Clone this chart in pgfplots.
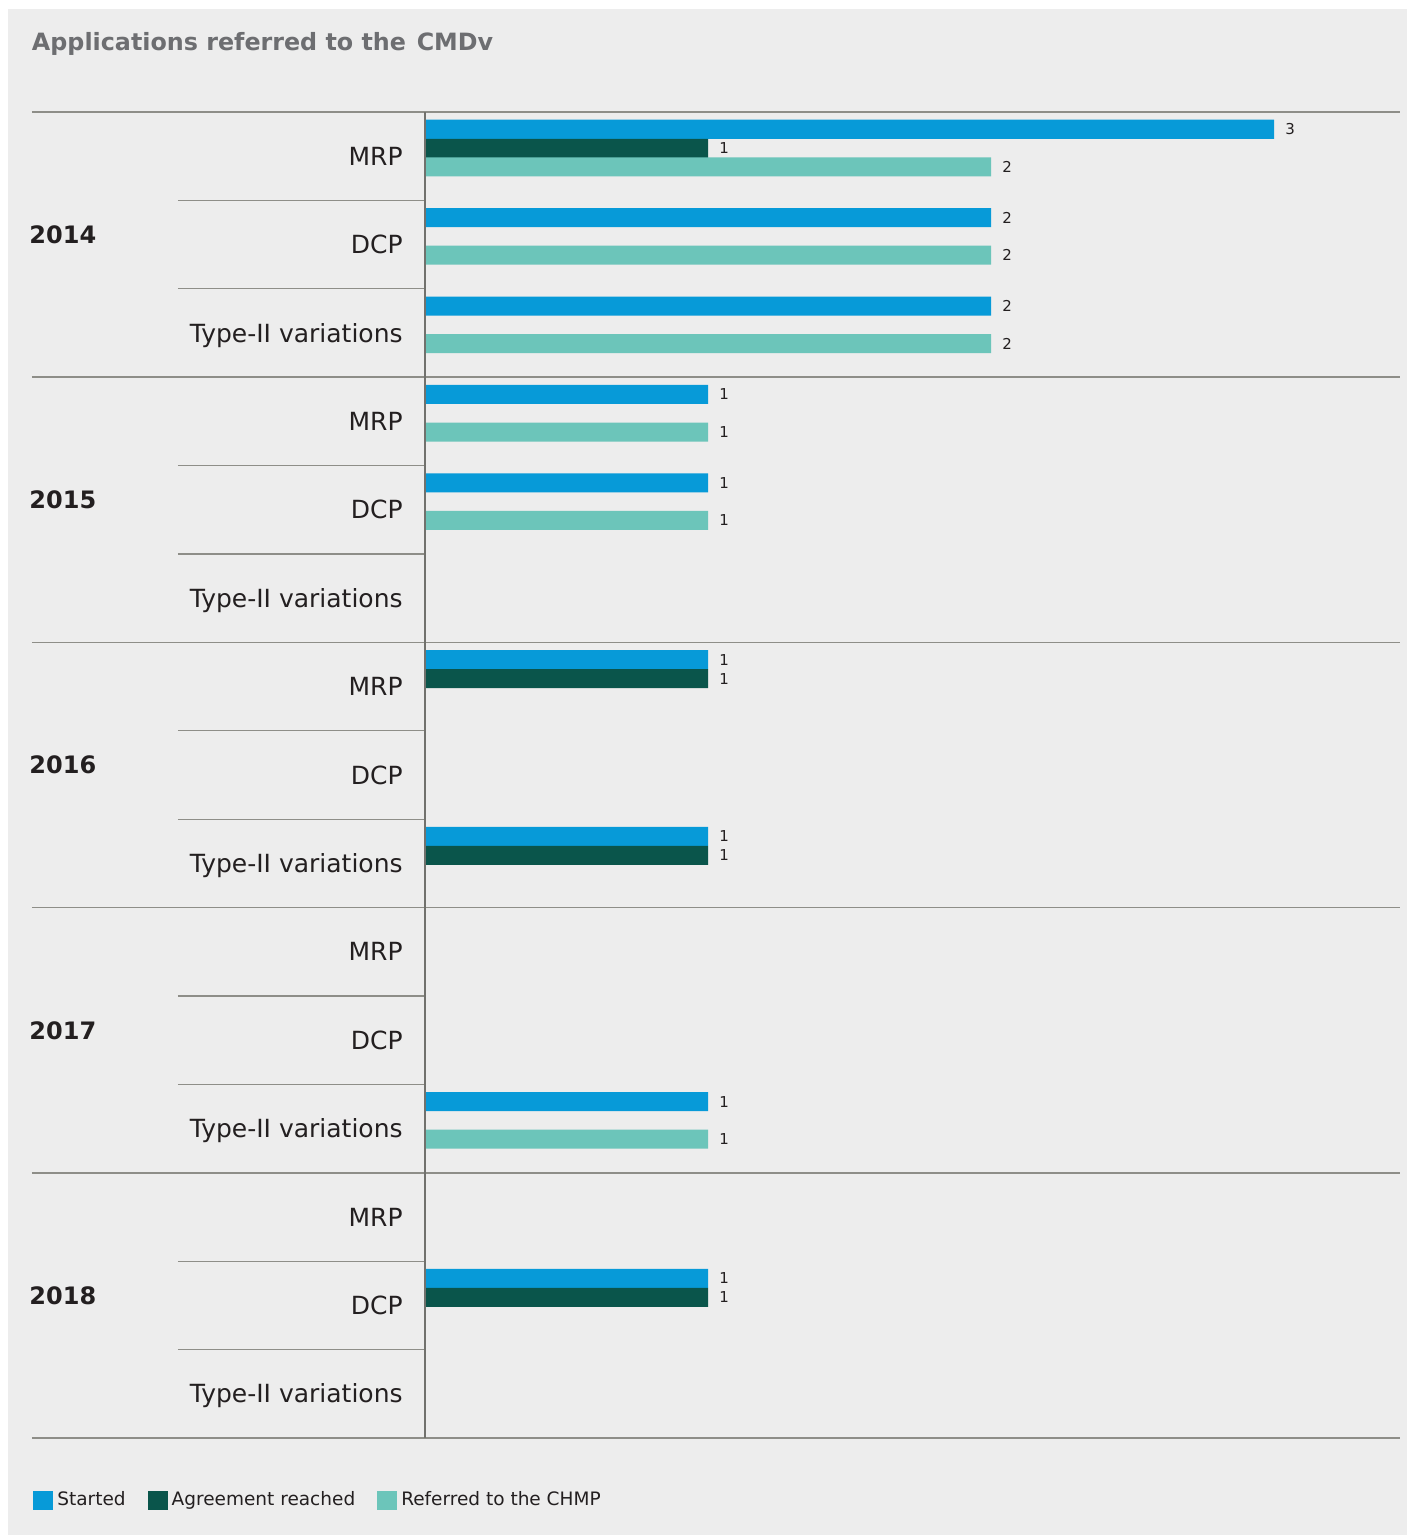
\documentclass[border=0pt]{standalone}
\usepackage{fontspec}
\setmainfont{DejaVu Sans}
\usepackage{pgfplots}
\usepackage{pgfplotstable}
\pgfplotsset{compat=1.18}

\definecolor{bgc}{HTML}{EDEDED}
\definecolor{started}{HTML}{079AD8}
\definecolor{agree}{HTML}{0A554B}
\definecolor{chmp}{HTML}{6CC5BA}
\definecolor{titlegrey}{HTML}{6D6E71}
\definecolor{txt}{HTML}{231F20}
\definecolor{rule}{HTML}{8E8E88}

% category index: 0-2 = 2014 (MRP, DCP, Type-II), 3-5 = 2015, ... 12-14 = 2018
\pgfplotstableread{
cat val
0 3
1 2
2 2
3 1
4 1
6 1
8 1
11 1
13 1
}\started
\pgfplotstableread{
cat val
0 1
6 1
8 1
13 1
}\agreement
\pgfplotstableread{
cat val
0 2
1 2
2 2
3 1
4 1
11 1
}\referred

\begin{document}
\begin{tikzpicture}
\fill[white] (0,0) rectangle (703.5pt,-767.5pt);
\fill[bgc] (4pt,-4.5pt) rectangle (703.5pt,-767.5pt);
\useasboundingbox (0,0) rectangle (703.5pt,-767.5pt);
\node[anchor=base west, inner sep=0pt, font=\bfseries\fontsize{11.9}{14}\selectfont, text=titlegrey]
  at (15.8pt,-25.5pt) {Applications referred to the\hspace{0.45em}CMDv};

\begin{axis}[
  at={(212.5pt,-56pt)}, anchor=north west,
  scale only axis,
  width=487.5pt, height=663pt,
  xmin=0, xmax=3.445,
  ymin=-0.5, ymax=14.5,
  y dir=reverse,
  axis line style={draw=none},
  xtick=\empty,
  ytick={0,...,14},
  yticklabels={MRP,DCP,Type-II variations,MRP,DCP,Type-II variations,MRP,DCP,Type-II variations,MRP,DCP,Type-II variations,MRP,DCP,Type-II variations},
  major tick length=0pt,
  yticklabel style={anchor=base east, inner sep=0pt, xshift=-11pt, yshift=-4.5pt,
    font=\fontsize{12.5}{15}\selectfont, text=txt},
  /pgf/number format/assume math mode=true,
  xbar, bar width=0.215, bar shift=0pt,
  clip=false,
  nodes near coords,
  every node near coord/.append style={anchor=west, inner sep=0pt, xshift=5.5pt,
    font=\fontsize{7.5}{9}\selectfont, text=txt},
  legend columns=-1,
  legend style={at={(axis description cs:0,0)}, anchor=west, xshift=-196pt, yshift=-31pt,
    draw=none, fill=none, inner sep=0pt, font=\fontsize{9.25}{11}\selectfont, text=txt,
    /tikz/every even column/.append style={column sep=9pt}},
  legend image code/.code={\fill[#1] (0pt,-4.75pt) rectangle (10pt,4.75pt);},
  legend cell align=left,
]
\addplot[fill=started, draw=none] table[x=val, y expr=\thisrow{cat}-0.305] {\started};
\addlegendentry{Started}
\addplot[fill=agree, draw=none] table[x=val, y expr=\thisrow{cat}-0.09] {\agreement};
\addlegendentry{Agreement reached}
\addplot[fill=chmp, draw=none] table[x=val, y expr=\thisrow{cat}+0.12] {\referred};
\addlegendentry{Referred to the CHMP}

% group rules
\pgfplotsinvokeforeach{-0.5,2.5,5.5,8.5,11.5,14.5}{
  \draw[rule, line width=0.75pt] ([xshift=-196.5pt]axis cs:0,#1) -- (axis cs:3.445,#1);
}
\pgfplotsinvokeforeach{0.5,1.5,3.5,4.5,6.5,7.5,9.5,10.5,12.5,13.5}{
  \draw[rule, line width=0.6pt] ([xshift=-123.5pt]axis cs:0,#1) -- (axis cs:0,#1);
}
\draw[rule!80!black, line width=0.6pt] (axis cs:0,-0.5) -- (axis cs:0,14.5);

% year labels
\node[anchor=base west, inner sep=0pt, font=\bfseries\fontsize{12}{14}\selectfont, text=txt] at ([xshift=-198pt, yshift=0.6pt]axis cs:0,1) {2014};
\node[anchor=base west, inner sep=0pt, font=\bfseries\fontsize{12}{14}\selectfont, text=txt] at ([xshift=-198pt, yshift=0.6pt]axis cs:0,4) {2015};
\node[anchor=base west, inner sep=0pt, font=\bfseries\fontsize{12}{14}\selectfont, text=txt] at ([xshift=-198pt, yshift=0.6pt]axis cs:0,7) {2016};
\node[anchor=base west, inner sep=0pt, font=\bfseries\fontsize{12}{14}\selectfont, text=txt] at ([xshift=-198pt, yshift=0.6pt]axis cs:0,10) {2017};
\node[anchor=base west, inner sep=0pt, font=\bfseries\fontsize{12}{14}\selectfont, text=txt] at ([xshift=-198pt, yshift=0.6pt]axis cs:0,13) {2018};
\end{axis}
\end{tikzpicture}
\end{document}
